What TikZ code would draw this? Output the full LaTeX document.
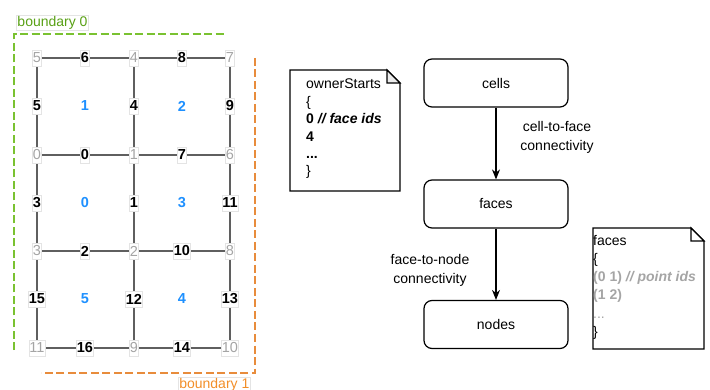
\documentclass[tikz,border=0pt]{standalone}
\usepackage{fontspec}
\setmainfont{Liberation Sans}
\usetikzlibrary{arrows.meta,backgrounds}
\definecolor{bndgreen}{RGB}{122,194,49}
\definecolor{txtgreen}{RGB}{88,160,20}
\definecolor{bndorange}{RGB}{232,140,60}
\definecolor{txtorange}{RGB}{242,142,40}
\definecolor{cellblue}{RGB}{30,144,255}
\definecolor{ptgray}{RGB}{165,165,165}
\definecolor{edgegray}{RGB}{95,95,95}
\definecolor{lblborder}{RGB}{228,228,228}
\definecolor{foldgray}{RGB}{235,235,235}
\tikzset{
    lbl/.style={fill=white, draw=lblborder, line width=0.5pt, inner xsep=0.5pt,
        inner ysep=0pt, minimum height=16pt, font=\fontsize{14.5}{16}\selectfont},
    pointlbl/.style={lbl, text=ptgray},
    facelbl/.style={lbl, text=black, font=\fontsize{14.5}{16}\selectfont\bfseries},
    celllbl/.style={text=cellblue, inner sep=0pt, font=\fontsize{14.5}{16}\selectfont\bfseries},
    gridedge/.style={draw=edgegray, line width=1.1pt},
    bndline/.style={line width=1.8pt, dash pattern=on 8pt off 3.5pt},
    flowbox/.style={draw, line width=1.2pt, rounded corners=8pt, minimum width=144pt,
        minimum height=48pt, font=\fontsize{14}{16}\selectfont},
    flowarrow/.style={line width=1.2pt, -{Stealth[length=10pt,width=8pt]}},
    arrowlbl/.style={align=center, font=\fontsize{14}{19}\selectfont},
    doctext/.style={anchor=north west, inner sep=0pt, align=left}
}
\begin{document}
\begin{tikzpicture}[x=1pt, y=-1pt]
    \useasboundingbox (0,0) rectangle (710,390);
    % boundaries
    \draw[bndline, bndgreen] (14,350) -- (14,34) -- (226,34);
    \draw[bndline, bndorange] (255,58) -- (255,373) -- (41,373);
    \node[draw=lblborder, line width=0.6pt, inner sep=1pt, text=txtgreen,
        font=\fontsize{14}{16}\selectfont] (bnd0) at (52.5,22.5) {boundary 0};
    \node[draw=lblborder, line width=0.6pt, inner sep=1pt, text=txtorange,
        font=\fontsize{14}{16}\selectfont, anchor=north west] (bnd1) at (178,377) {boundary 1};
    % points
    \foreach \lab/\x/\y in {5/37/58, 4/134/58, 7/230/58, 0/37/155, 1/134/155, 6/230/155,
        3/37/251, 2/134/251, 8/230/251, 11/37/348, 9/134/348, 10/230/348}
        \node[pointlbl] (p\lab) at (\x,\y) {\lab};
    % faces
    \foreach \lab/\x/\y in {6/85/58, 8/182/58, 5/37/106, 4/134/106, 9/230/106,
        0/85/155, 7/182/155, 3/37/203, 1/134/203, 11/230/203, 2/85/251, 10/182/251,
        15/37/299, 12/134/299, 13/230/299, 16/85/348, 14/182/348}
        \node[facelbl] (f\lab) at (\x,\y) {\lab};
    % cells
    \foreach \lab/\x/\y in {1/85/106, 2/182/106, 0/85/203, 3/182/203, 5/85/299, 4/182/299}
        \node[celllbl] (c\lab) at (\x,\y) {\lab};
    % mesh edges
    \begin{scope}[on background layer]
        \draw[gridedge] (p5.center) -- (p7.center);
        \draw[gridedge] (p0.center) -- (p6.center);
        \draw[gridedge] (p3.center) -- (p8.center);
        \draw[gridedge] (p11.center) -- (p10.center);
        \draw[gridedge] (p5.center) -- (p11.center);
        \draw[gridedge] (p4.center) -- (p9.center);
        \draw[gridedge] (p7.center) -- (p10.center);
    \end{scope}
    % ownerStarts document
    \draw[line width=1.2pt] (290,70) -- (387,70) -- (400,83) -- (400,191) -- (290,191) -- cycle;
    \filldraw[fill=foldgray, line width=1.2pt] (387,70) -- (387,83) -- (400,83) -- cycle;
    \node[doctext, font=\fontsize{14}{17.4}\selectfont] (owner) at (306,79)
        {ownerStarts\\\{\\\textbf{0 \textit{// face ids}}\\\textbf{4}\\\textbf{...}\\\}};
    % faces document
    \draw[line width=1.2pt] (593,228) -- (691,228) -- (704,241) -- (704,349) -- (593,349) -- cycle;
    \filldraw[fill=white, line width=1.2pt] (691,228) -- (691,241) -- (704,241) -- cycle;
    \node[doctext, font=\fontsize{14}{18.2}\selectfont] (facelist) at (593,235)
        {faces\\\{\\\textcolor{ptgray}{\textbf{(0 1) \textit{// point ids}}}\\
        \textcolor{ptgray}{\textbf{(1 2)}}\\\textcolor{ptgray}{...}\\\}};
    % flow
    \node[flowbox] (cells) at (496,83) {cells};
    \node[flowbox] (faces) at (496,204) {faces};
    \node[flowbox] (nodes) at (496,324.5) {nodes};
    \draw[flowarrow] (cells) -- (faces);
    \draw[flowarrow] (faces) -- (nodes);
    \node[arrowlbl] (c2f) at (557,137) {cell-to-face\\connectivity};
    \node[arrowlbl] (f2n) at (430,270) {face-to-node\\connectivity};
\end{tikzpicture}
\end{document}
